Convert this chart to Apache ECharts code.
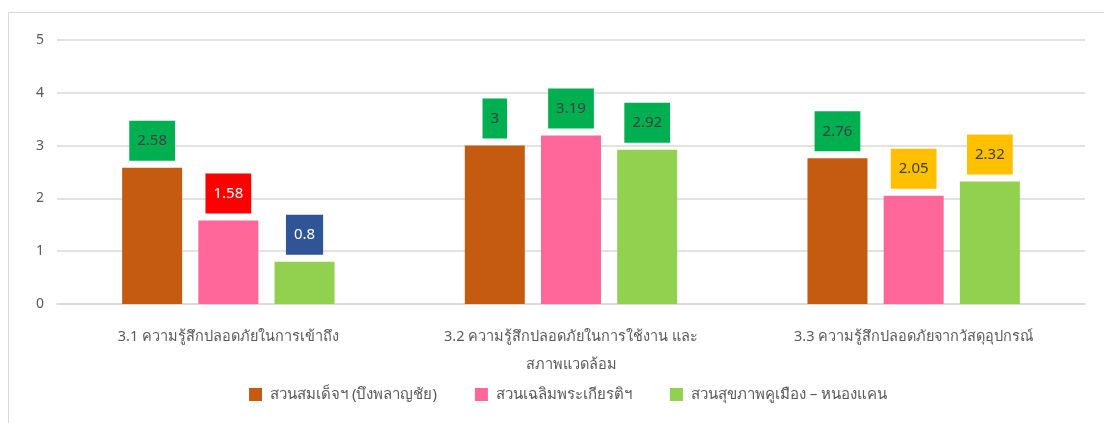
<!DOCTYPE html>
<html>
<head>
<meta charset="utf-8">
<script src="https://cdn.jsdelivr.net/npm/echarts@6/dist/echarts.min.js"></script>
<style>
  html, body { margin: 0; padding: 0; background: #fff; }
  #chart { width: 1104px; height: 423px; }
</style>
</head>
<body>
<div id="chart"></div>
<script>
// Categories (safety perception topics) and park names
const categories = [
  '3.1 ความรู้สึกปลอดภัยในการเข้าถึง',
  '3.2 ความรู้สึกปลอดภัยในการใช้งาน และ\nสภาพแวดล้อม',
  '3.3 ความรู้สึกปลอดภัยจากวัสดุอุปกรณ์'
];
const seriesNames = [
  'สวนสมเด็จฯ (บึงพลาญชัย)',
  'สวนเฉลิมพระเกียรติฯ',
  'สวนสุขภาพคูเมือง – หนองแคน'
];
// Mean scores per park, one value per category
const somdetValues = [2.58, 3, 2.76];
const chalermValues = [1.58, 3.19, 2.05];
const sukhaphapValues = [0.8, 2.92, 2.32];
const yTicks = [0, 1, 2, 3, 4, 5];

// Styling
const FONT = 'Tahoma, "Noto Sans", sans-serif';
const barColors = ['#C55A11', '#FF6699', '#92D050'];
const GREEN = '#00B050', RED = '#FF0000', BLUE = '#2F5597', AMBER = '#FFC000';
const labelFills = [
  [GREEN, GREEN, GREEN],
  [RED, GREEN, AMBER],
  [BLUE, GREEN, AMBER]
];
const labelInk = [
  ['#404040', '#404040', '#404040'],
  ['#ffffff', '#404040', '#404040'],
  ['#ffffff', '#404040', '#404040']
];
const allValues = [somdetValues, chalermValues, sukhaphapValues];

const series = allValues.map((vals, s) => ({
  name: seriesNames[s],
  type: 'bar',
  barWidth: 60,
  barGap: '27%',
  itemStyle: { color: barColors[s] },
  data: vals.map((v, i) => ({
    value: v,
    label: {
      show: true,
      position: 'top',
      distance: 7,
      backgroundColor: labelFills[s][i],
      color: labelInk[s][i],
      padding: [12, 8, 12, 8],
      lineHeight: 16,
      fontSize: 15,
      fontFamily: FONT
    }
  }))
}));

const chart = echarts.init(document.getElementById('chart'), null, { renderer: 'canvas' });
chart.setOption({
  animation: false,
  backgroundColor: '#ffffff',
  color: barColors,
  graphic: [
    { type: 'polyline', shape: { points: [[8.5, 423], [8.5, 12.5], [1104, 12.5]] },
      style: { stroke: '#D9D9D9', lineWidth: 1, fill: null }, silent: true }
  ],
  grid: { left: 57, right: 19, top: 40, bottom: 119, containLabel: false },
  legend: {
    bottom: 16,
    left: 244,
    itemWidth: 13,
    itemHeight: 13,
    itemGap: 38,
    icon: 'rect',
    textStyle: { fontFamily: FONT, fontSize: 15, color: '#595959', padding: [0, 0, 0, 3] },
    data: seriesNames
  },
  xAxis: {
    type: 'category',
    data: categories,
    axisLine: { lineStyle: { color: '#D9D9D9', width: 1.5 } },
    axisTick: { show: false },
    axisLabel: {
      interval: 0,
      margin: 19,
      fontFamily: FONT,
      fontSize: 14.5,
      lineHeight: 28,
      color: '#595959'
    }
  },
  yAxis: {
    type: 'value',
    min: yTicks[0],
    max: yTicks[yTicks.length - 1],
    interval: 1,
    axisLine: { show: false },
    axisTick: { show: false },
    splitLine: { lineStyle: { color: '#D9D9D9', width: 1.5 } },
    axisLabel: { margin: 13, fontFamily: FONT, fontSize: 14, color: '#595959' }
  },
  series: series
});
</script>
</body>
</html>
